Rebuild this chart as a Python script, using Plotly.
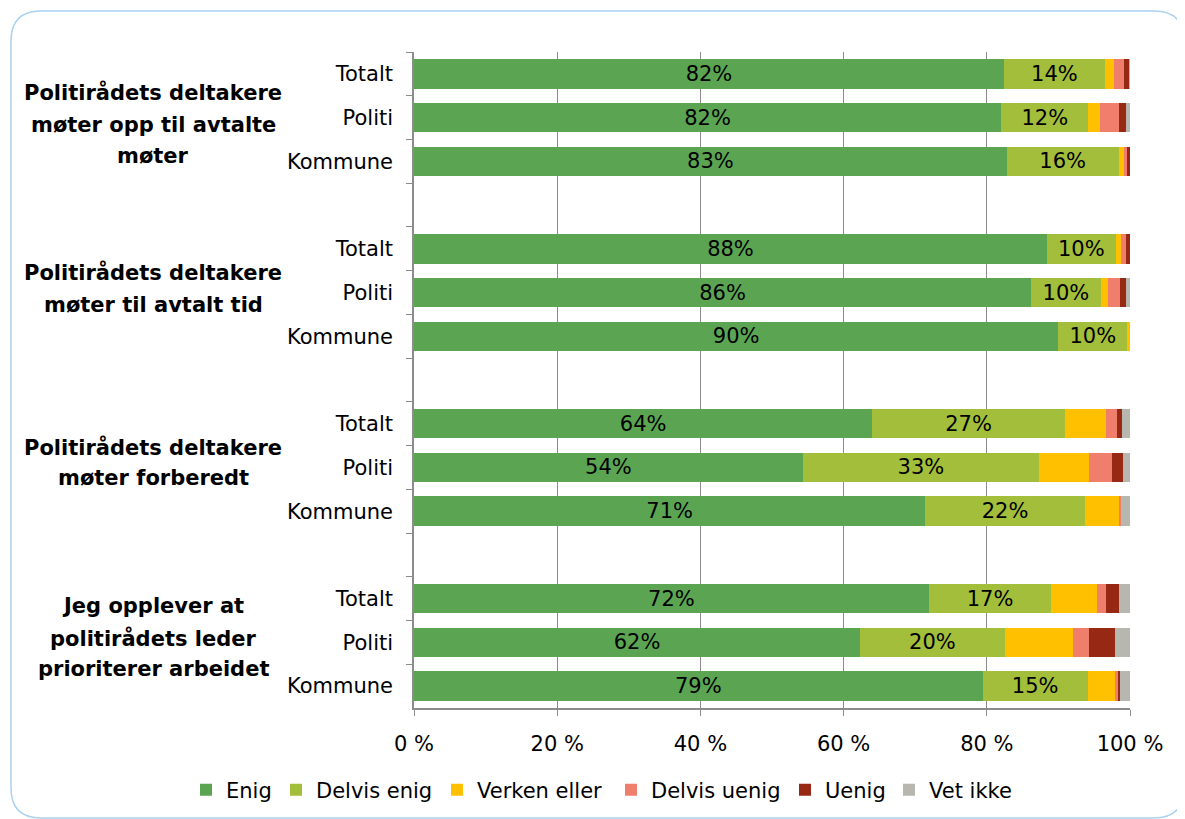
import plotly.graph_objects as go

# ---------------- data ----------------
groups = [
    ["Politirådets deltakere", "møter opp til avtalte", "møter"],
    ["Politirådets deltakere", "møter til avtalt tid"],
    ["Politirådets deltakere", "møter forberedt"],
    ["Jeg opplever at", "politirådets leder", "prioriterer arbeidet"],
]
subcats = ["Totalt", "Politi", "Kommune"]
series_names = ["Enig", "Delvis enig", "Verken eller", "Delvis uenig", "Uenig", "Vet ikke"]

# rows: G1 Totalt, Politi, Kommune, G2 ..., G3 ..., G4 ...
enig        = [82.4, 82.0, 82.8, 88.4, 86.2, 90.0, 64.0, 54.3, 71.4, 71.9, 62.3, 79.4]
delvis_enig = [14.1, 12.2, 15.6,  9.6,  9.7,  9.6, 26.9, 33.0, 22.3, 17.1, 20.2, 14.7]
verken      = [ 1.3,  1.6,  0.8,  0.8,  1.0,  0.4,  5.7,  7.0,  4.7,  6.4,  9.6,  3.8]
delvis_uenig= [ 1.4,  2.7,  0.4,  0.7,  1.7,  0.0,  1.6,  3.2,  0.3,  1.2,  2.2,  0.4]
uenig       = [ 0.7,  1.0,  0.4,  0.5,  0.9,  0.0,  0.7,  1.5,  0.0,  1.8,  3.6,  0.3]
vet_ikke    = [ 0.1,  0.5,  0.0,  0.0,  0.5,  0.0,  1.1,  1.0,  1.3,  1.6,  2.1,  1.4]

x_ticks = [0, 20, 40, 60, 80, 100]
x_tick_labels = ["0 %", "20 %", "40 %", "60 %", "80 %", "100 %"]

colors = ["#5BA552", "#A2BE3A", "#FFC000", "#EF7F6C", "#962814", "#B7B7AF"]
values = [enig, delvis_enig, verken, delvis_uenig, uenig, vet_ikke]
show_text = [True, True, False, False, False, False]

# ---------------- categories ----------------
row_keys = []
cat_order = []
alias = {}
for gi in range(len(groups)):
    for s in subcats:
        k = f"G{gi+1}|{s}"
        row_keys.append(k)
        cat_order.append(k)
        alias[k] = s
    if gi < len(groups) - 1:
        g = f"gap{gi+1}"
        cat_order.append(g)
        alias[g] = " "

FONT = "Verdana, DejaVu Sans, sans-serif"

# page geometry (page has an 8px body margin)
W, H = 1177, 811
L, R, T, B = 406, 55, 44, 111
pw, ph = W - L - R, H - T - B
def px(x): return (x - L) / pw
def py(y): return (H - B - y) / ph

# legend entry text starts (page px) to mimic the original spacing
legend_text_px = [226, 316, 477, 651, 825, 929]

fig = go.Figure()
for i, (name, vals, col, st) in enumerate(zip(series_names, values, colors, show_text)):
    lg = "legend" if i == 0 else f"legend{i+1}"
    fig.add_trace(go.Bar(
        name=name, x=vals, y=row_keys, orientation="h",
        marker=dict(color=col, line=dict(width=0)),
        text=[f"{round(v)}%" for v in vals] if st else None,
        textposition="inside" if st else "none",
        insidetextanchor="middle",
        textangle=0,
        constraintext="none",
        textfont=dict(color="black", size=21, family=FONT),
        hoverinfo="x+name",
        legend=lg,
    ))
    fig.update_layout({lg: dict(
        orientation="h", x=px(legend_text_px[i] - 8 - 40), xanchor="left",
        y=py(790 - 8), yanchor="middle",
        font=dict(size=21, family=FONT), bgcolor="rgba(0,0,0,0)",
        itemclick=False, itemdoubleclick=False)})

# group labels (one annotation per line)
offsets = [[-25, 7, 38], [-20, 12], [-20, 11], [-36, -4, 27]]
for gi, lines in enumerate(groups):
    for line, off in zip(lines, offsets[gi]):
        fig.add_annotation(
            text=f"<b>{line}</b>", x=-0.3645, xref="paper",
            y=f"G{gi+1}|Politi", yref="y", yshift=-off,
            showarrow=False, xanchor="center", yanchor="middle",
            font=dict(size=21, family=FONT, color="black"),
        )

# rounded frame
x0, y0, x1, y1, r = 3, 3, 1176, 810, 30
path = (f"M {px(x0)},{py(y0 + r)} Q {px(x0)},{py(y0)} {px(x0 + r)},{py(y0)} "
        f"L {px(x1 - r)},{py(y0)} Q {px(x1)},{py(y0)} {px(x1)},{py(y0 + r)} "
        f"L {px(x1)},{py(y1 - r)} Q {px(x1)},{py(y1)} {px(x1 - r)},{py(y1)} "
        f"L {px(x0 + r)},{py(y1)} Q {px(x0)},{py(y1)} {px(x0)},{py(y1 - r)} Z")
fig.add_shape(type="path", path=path, xref="paper", yref="paper",
              line=dict(color="#A9D1F2", width=1.5), layer="below")

fig.update_layout(
    width=W, height=H,
    margin=dict(l=L, r=R, t=T, b=B, autoexpand=False),
    barmode="stack", bargap=0.325,
    plot_bgcolor="white", paper_bgcolor="white",
    font=dict(family=FONT, size=21, color="black"),
    showlegend=True,
    xaxis=dict(range=[0, 100], tickvals=x_ticks, ticktext=x_tick_labels,
               showgrid=True, gridcolor="#8C8C8C", gridwidth=1,
               showline=True, linecolor="#8C8C8C", linewidth=1.5,
               ticks="outside", ticklen=6, tickcolor="#8C8C8C",
               ticklabelstandoff=10, zeroline=False,
               tickfont=dict(size=21, family=FONT)),
    yaxis=dict(type="category", categoryorder="array", categoryarray=cat_order,
               range=[len(cat_order) - 0.5, -0.5], labelalias=alias,
               showline=True, linecolor="#8C8C8C", linewidth=1.5,
               ticks="outside", ticklen=6, tickcolor="#8C8C8C", tickson="boundaries",
               ticklabelstandoff=15, showgrid=False,
               tickfont=dict(size=21, family=FONT)),
)

fig.write_html("out.html")
